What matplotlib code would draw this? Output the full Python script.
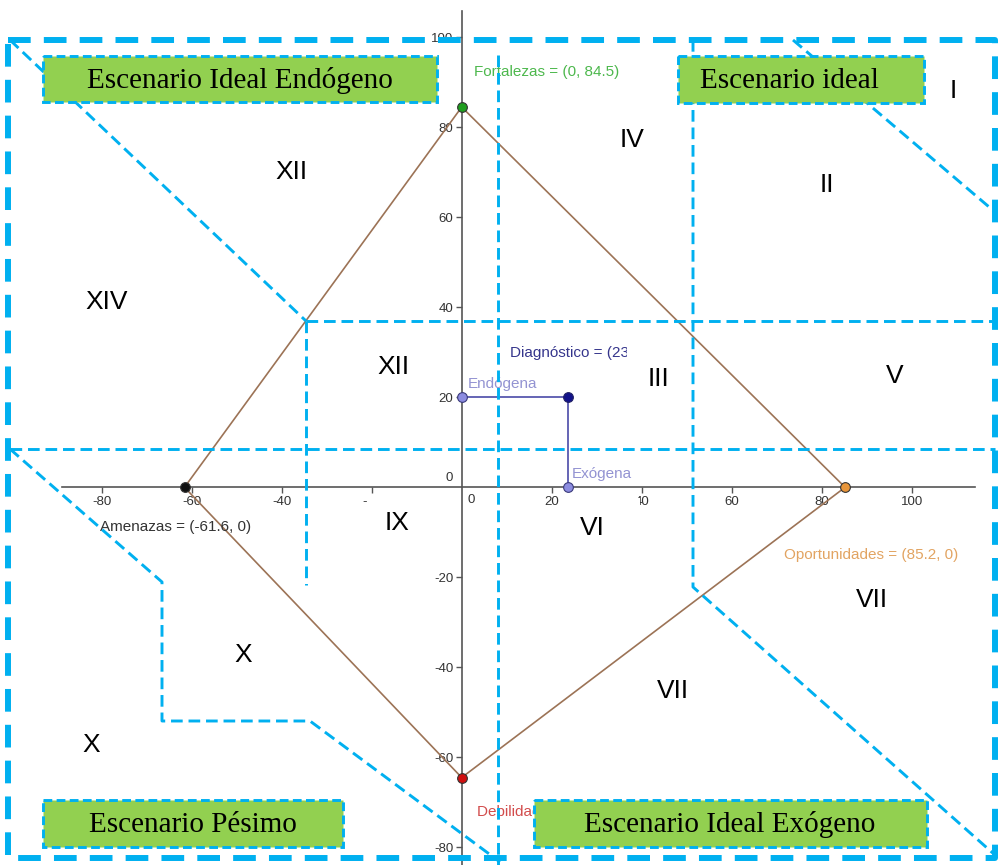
import matplotlib.pyplot as plt
from matplotlib.patches import Rectangle

# --- data ---
point_names = ["Fortalezas", "Oportunidades", "Debilidades", "Amenazas"]
point_x = [0, 85.2, 0, -61.6]
point_y = [84.5, 0, -64.5, 0]
point_colors = ["#1f9e1f", "#e8953a", "#d01010", "#111111"]
label_colors = ["#4db84d", "#e2a462", "#d24c4c", "#333333"]
label_offsets = [(12, 35), (-61, -68), (15, -34), (-84, -40)]  # pixels

diag_name = "Diagnóstico"
diag_x, diag_y = 23.6, 20
ticks = [-80, -60, -40, -20, 20, 40, 60, 80, 100]

scenario_boxes = ["Escenario Ideal Endógeno", "Escenario ideal",
                  "Escenario Pésimo", "Escenario Ideal Exógeno"]
regions = ["I", "XII", "IV", "II", "XIV", "XII", "III", "V",
           "IX", "VI", "VII", "X", "VII", "X"]

# --- canvas geometry (pixels) ---
W, H, DPI = 1001, 865, 100
X0, Y0, S = 461.7, 487.3, 4.5  # pixel of origin, pixels per unit

fig = plt.figure(figsize=(W / DPI, H / DPI), dpi=DPI)
fig.patch.set_facecolor("white")

ax = fig.add_axes([0, 0, 1, 1])
ax.set_xlim(-X0 / S, (W - X0) / S)
ax.set_ylim((Y0 - H) / S, Y0 / S)
ax.set_facecolor("white")

axis_col = "#555555"
for s in ["top", "right"]:
    ax.spines[s].set_visible(False)
ax.spines["left"].set_position(("data", 0))
ax.spines["bottom"].set_position(("data", 0))
ax.spines["left"].set_bounds(-84, 105.8)
ax.spines["bottom"].set_bounds(-88.8, 114.1)
for s in ["left", "bottom"]:
    ax.spines[s].set_color(axis_col)
    ax.spines[s].set_linewidth(1.2)
ax.set_xticks(ticks)
ax.set_xticklabels([str(t) for t in ticks])
ax.set_yticks(ticks)
ax.set_yticklabels([str(t) for t in ticks])
ax.tick_params(direction="out", length=4, width=1, colors=axis_col,
               labelcolor="#333333", labelsize=9.5, pad=2)
for lbl in ax.get_xticklabels() + ax.get_yticklabels():
    lbl.set_family("Liberation Sans")
zero_kw = dict(textcoords="offset pixels", fontsize=9.5, color="#333333",
               family="Liberation Sans", ha="center", va="center")
ax.annotate("0", (0, 0), xytext=(9, -13), **zero_kw)
ax.annotate("0", (0, 0), xytext=(-13, 9), **zero_kw)

# diamond
ax.plot(point_x + point_x[:1], point_y + point_y[:1], color="#9c7356",
        lw=1.2, zorder=3)
# diagnostic
ax.plot([0, diag_x, diag_x], [diag_y, diag_y, 0], color="#4a4aa8", lw=1.2,
        zorder=3)

lab_kw = dict(textcoords="offset pixels", fontsize=11,
              family="Liberation Sans", ha="left", va="center", zorder=4)
point_labels = []
for name, x, y, c, lc, off in zip(point_names, point_x, point_y,
                                  point_colors, label_colors, label_offsets):
    ax.plot(x, y, "o", ms=7, color=c, mec="#333333", mew=0.8, zorder=5)
    point_labels.append(ax.annotate(f"{name} = ({x:g}, {y:g})", (x, y),
                                    xytext=off, color=lc, **lab_kw))

ax.plot(diag_x, diag_y, "o", ms=7, color="#12128a", mec="#222266", mew=0.8,
        zorder=5)
ax.plot([0, diag_x], [diag_y, 0], "o", ms=7, color="#8c8ce0", mec="#3a3a7a",
        mew=0.8, zorder=5)
ax.annotate("Endógena", (0, diag_y), xytext=(6, 13), color="#9393d2", **lab_kw)
ax.annotate("Exógena", (diag_x, 0), xytext=(4, 13), color="#9393d2", **lab_kw)
diag_txt = ax.annotate(f"{diag_name} = ({diag_x:g}, {diag_y:g})",
                       (diag_x, diag_y), xytext=(-58, 44), color="#35358c",
                       **lab_kw)

# --- overlay (pixel layout) ---
ov = fig.add_axes([0, 0, 1, 1])
ov.set_xlim(0, W)
ov.set_ylim(H, 0)
ov.axis("off")
ov.patch.set_visible(False)

# parts of the plot hidden behind the boxes of the source image
diag_txt.set_clip_path(Rectangle((400, 330), 227, 40, transform=ov.transData))
point_labels[2].set_clip_path(Rectangle((400, 790), 133, 40,
                                        transform=ov.transData))
for (x, y, w, h) in [(367, 494, 20, 14), (630, 493, 8, 5), (630, 498, 10, 10)]:
    ax.add_patch(Rectangle((x, y), w, h, transform=ov.transData,
                           facecolor="white", edgecolor="none", zorder=6))

blue = "#00b0f0"
thin = dict(color=blue, lw=2.1, linestyle=(0, (4, 2)), zorder=2)
thick = dict(color=blue, lw=4.3, linestyle=(0, (3.8, 2.2)), zorder=2)

ov.plot([8, 995, 995, 8, 8], [39.5, 39.5, 858, 858, 39.5], **thick)
paths = [
    ([10, 306], [40, 321]),
    ([306, 995], [321, 321]),
    ([306, 306], [321, 585]),
    ([10, 995], [449, 449]),
    ([498, 498], [55, 865]),
    ([693, 693, 995], [40, 587, 855]),
    ([793, 995], [40, 212]),
    ([10, 162, 162, 310, 500], [449, 582, 721, 721, 862]),
]
for xs, ys in paths:
    ov.plot(xs, ys, **thin)

box_geom = [(43, 56, 394, 46), (678, 56, 246, 47),
            (43, 800, 300, 47), (534, 800, 393, 47)]
text_pos = [(240, 88, "center"), (700, 88, "left"),
            (193, 832, "center"), (730, 832, "center")]
for label, (x, y, w, h), (tx, ty, ha) in zip(scenario_boxes, box_geom, text_pos):
    ov.add_patch(Rectangle((x, y), w, h, facecolor="#92d050", edgecolor=blue,
                           lw=2.1, linestyle=(0, (3, 1.5)), zorder=5))
    ov.text(tx, ty, label, ha=ha, va="baseline", fontsize=21,
            family="Liberation Serif", color="black", zorder=6)

region_pos = [(953, 91), (291, 172), (632, 140), (827, 185), (107, 302),
              (393, 367), (658, 379), (895, 376), (397, 523), (592, 528),
              (872, 600), (243, 655), (673, 691), (91, 745)]
for label, (x, y) in zip(regions, region_pos):
    ov.text(x, y, label, ha="center", va="center", fontsize=19,
            family="Liberation Sans", color="black", zorder=7)

fig.savefig("out.png", dpi=DPI, facecolor="white")
